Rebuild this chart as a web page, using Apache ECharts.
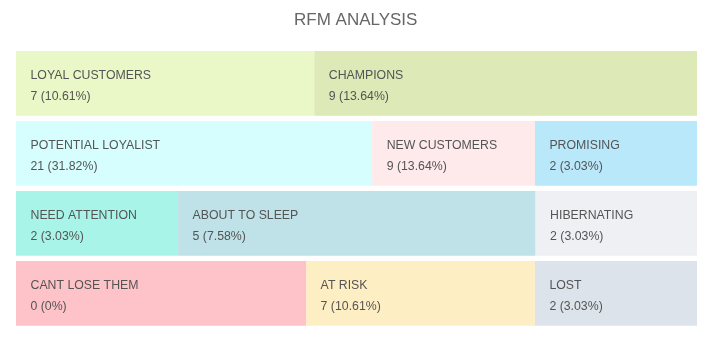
<!DOCTYPE html>
<html>
<head>
<meta charset="utf-8">
<script src="https://cdn.jsdelivr.net/npm/echarts@6/dist/echarts.min.js"></script>
<style>html,body{margin:0;padding:0;background:#fff;}#chart{width:721px;height:345px;}</style>
</head>
<body>
<div id="chart"></div>
<script>
const rows = ['ROW1', 'ROW2', 'ROW3', 'ROW4'];
const segments = ['LOYAL CUSTOMERS', 'CHAMPIONS', 'POTENTIAL LOYALIST', 'NEW CUSTOMERS', 'PROMISING',
  'NEED ATTENTION', 'ABOUT TO SLEEP', 'HIBERNATING', 'CANT LOSE THEM', 'AT RISK', 'LOST'];
const customers = [7, 9, 21, 9, 2, 2, 5, 2, 0, 7, 2];
const segmentRow = [0, 0, 1, 1, 1, 2, 2, 2, 3, 3, 3];
const segmentSlot = [0, 1, 0, 1, 2, 0, 1, 2, 0, 1, 2];
const segmentSpan = [43.8, 56.2, 52.3, 23.9, 23.8, 23.8, 52.5, 23.7, 42.6, 33.6, 23.8];
const palette = ['#e9f8c6', '#dde9b6', '#d6fefe', '#feeaea', '#b9e8fa',
  '#a9f4e8', '#bee2e7', '#eff0f4', '#fdc3c8', '#feeec4', '#dde3eb'];

const total = customers.reduce((a, b) => a + b, 0);
const series = [0, 1, 2].map(slot => {
  const data = rows.map(() => '-');
  segments.forEach((name, i) => {
    if (segmentSlot[i] === slot) {
      data[segmentRow[i]] = {
        value: segmentSpan[i],
        name: name,
        count: customers[i],
        itemStyle: { color: palette[i] }
      };
    }
  });
  return {
    type: 'bar',
    stack: 'rfm',
    barWidth: '92.4%',
    data: data,
    silent: true,
    itemStyle: { borderWidth: 0 },
    label: {
      show: true,
      position: 'insideLeft',
      distance: 14.5,
      offset: [0, 3],
      formatter: p => {
        const d = p.data;
        const pct = Number((d.count / total * 100).toFixed(2));
        return '{a|' + d.name + '}\n{b|' + d.count + ' (' + pct + '%)}';
      },
      rich: {
        a: { fontSize: 12.3, color: '#545454', lineHeight: 21, fontFamily: 'Liberation Sans, Arial, sans-serif' },
        b: { fontSize: 12.3, color: '#545454', lineHeight: 21, fontFamily: 'Liberation Sans, Arial, sans-serif' }
      }
    },
    emphasis: { disabled: true }
  };
});

const chart = echarts.init(document.getElementById('chart'), null, { renderer: 'canvas' });
chart.setOption({
  animation: false,
  backgroundColor: '#fff',
  title: {
    text: 'RFM ANALYSIS',
    left: 289,
    top: 7,
    textStyle: { fontSize: 17, fontWeight: 'normal', color: '#666', fontFamily: 'Liberation Sans, Arial, sans-serif' }
  },
  grid: { left: 16, right: 24, top: 48.3, height: 280 },
  xAxis: { type: 'value', min: 0, max: 100, show: false },
  yAxis: { type: 'category', data: rows, inverse: true, show: false },
  series: series
});
</script>
</body>
</html>
